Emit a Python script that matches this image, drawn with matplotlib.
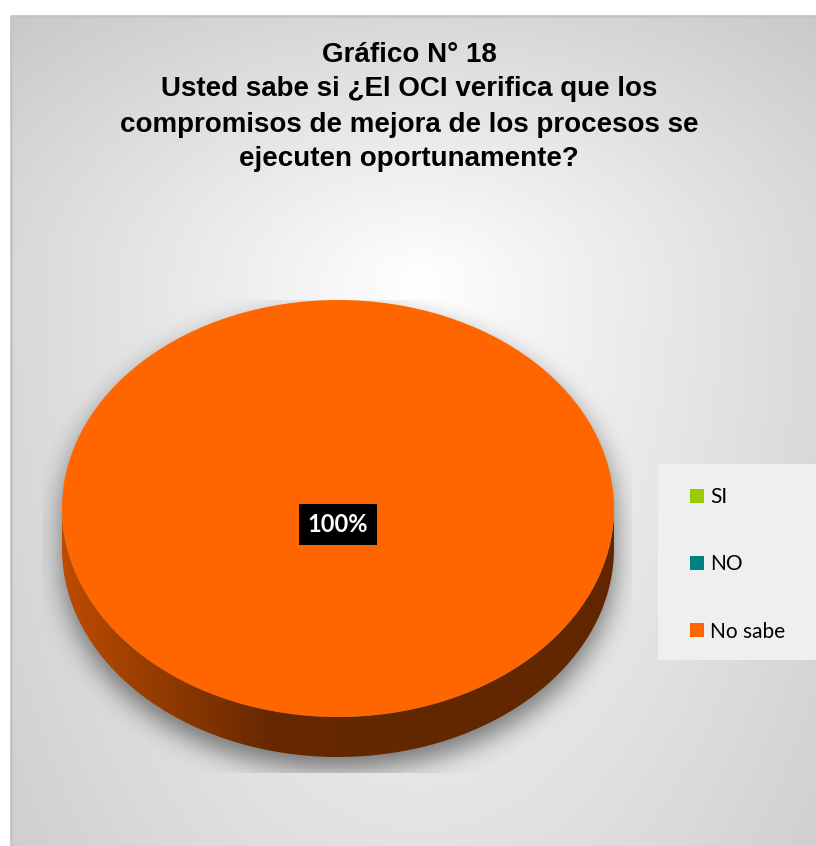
import numpy as np
import matplotlib
matplotlib.use("Agg")
import matplotlib.pyplot as plt
from matplotlib.patches import Patch, Rectangle, Polygon
from matplotlib.colors import to_rgb

# survey answers (percent of respondents)
categories = ["SI", "NO", "No sabe"]
values = [0, 0, 100]
colors = ["#99cc00", "#008080", "#ff6600"]

title = ("Gráfico N° 18\n"
         "Usted sabe si ¿El OCI verifica que los\n"
         "compromisos de mejora de los procesos se\n"
         "ejecuten oportunamente?")

W, H = 816, 846
fig = plt.figure(figsize=(W / 100, H / 100), dpi=100, facecolor="white")

# background layer in pixel coordinates
bg = fig.add_axes([0, 0, 1, 1])
bg.set_xlim(0, W)
bg.set_ylim(H, 0)
bg.axis("off")

x0, y0 = 11, 16
yy, xx = np.mgrid[y0:H, x0:W].astype(float)
cx_g, cy_g = 420, 280
dy = yy - cy_g
sy = np.where(dy < 0, 380.0, 1100.0)
r = np.sqrt(((xx - cx_g) / 600.0) ** 2 + (dy / sy) ** 2)
g = 1 - 0.22 * np.clip(r, 0, 1.15)
bg.imshow(np.dstack([g, g, g]), extent=(x0, W, H, y0), aspect="auto",
          interpolation="bilinear", zorder=0)
bg.plot([x0, x0, W], [H, y0, y0], color="#c4c4c4", lw=2, zorder=1)

# pie geometry in pixels: top face ellipse plus extruded side
pcx, pcy, rx, ry, depth = 338, 508.5, 276, 208.5, 40

# soft shadow under the pie
sx0, sx1, sy0, sy1 = 42, 632, 300, 773
py, px = np.mgrid[sy0:sy1, sx0:sx1].astype(float)
u = (px - pcx) / rx
half = ry * np.sqrt(np.clip(1 - u ** 2, 0, None))
mask = ((np.abs(u) <= 1) & (py >= pcy - half) & (py <= pcy + depth + half)).astype(float)
pad = 60
big = np.zeros((mask.shape[0] + 2 * pad, mask.shape[1] + 2 * pad))
big[pad:-pad, pad:-pad] = mask
k = np.arange(-40, 41)
kern = np.exp(-0.5 * (k / 13.0) ** 2)
kern /= kern.sum()
big = np.apply_along_axis(lambda v: np.convolve(v, kern, mode="same"), 0, big)
big = np.apply_along_axis(lambda v: np.convolve(v, kern, mode="same"), 1, big)
shift = 12
sh = big[pad - shift:pad - shift + mask.shape[0], pad:pad + mask.shape[1]]
rgba = np.zeros(sh.shape + (4,))
rgba[..., 3] = 0.5 * np.clip(sh, 0, 1)
bg.imshow(rgba, extent=(sx0, sx1, sy1, sy0), aspect="auto", zorder=2)

# pie axes: data units, radius 1, squashed into an ellipse
d = depth / ry
ax = fig.add_axes([(pcx - rx) / W, (H - (pcy + ry + depth)) / H,
                   2 * rx / W, (2 * ry + depth) / H])
wedges, _ = ax.pie(values, colors=colors, startangle=90, counterclock=False,
                   radius=1, wedgeprops=dict(linewidth=0))
for w in wedges:
    w.set_zorder(5)
ax.set_aspect("auto")
ax.axis("off")

# side walls of the front half, shaded left to right
total = float(sum(values))
for val, col, w in zip(values, colors, wedges):
    if val == 0:
        continue
    lo, hi = w.theta1 % 360, w.theta2 % 360
    if val / total >= 0.999:
        lo, hi = 180.0, 360.0
    else:
        if hi <= lo:
            hi += 360
        lo, hi = max(lo, 180.0), min(hi, 360.0)
    if hi <= lo:
        continue
    t = np.radians(np.linspace(lo, hi, 200))
    top = np.column_stack([np.cos(t), np.sin(t)])
    bot = np.column_stack([np.cos(t), np.sin(t) - d])[::-1]
    poly = Polygon(np.vstack([top, bot]), closed=True, fc="none", ec="none")
    ax.add_patch(poly)
    base = np.array(to_rgb(col))
    gx = np.linspace(-1, 1, 400)
    f = np.interp(gx, [-1, -0.25, 1], [0.74, 0.40, 0.38])
    img = np.clip(base[None, None, :] * f[None, :, None], 0, 1)
    img = np.repeat(img, 2, axis=0)
    im = ax.imshow(img, extent=(-1, 1, -1 - d, 0), aspect="auto", zorder=3,
                   interpolation="bilinear")
    im.set_clip_path(poly)
ax.set_xlim(-1, 1)
ax.set_ylim(-1 - d, 1)

# percentage label
for val, w in zip(values, wedges):
    if val == 0:
        continue
    frac = val / total
    if frac >= 0.999:
        lx, ly = 0.0, -0.075
    else:
        mid = np.radians((w.theta1 + w.theta2) / 2)
        lx, ly = 0.6 * np.cos(mid), 0.6 * np.sin(mid)
    ax.text(lx, ly, f"{frac * 100:.0f}%", ha="center", va="center",
            color="white", fontsize=17, fontweight="bold", family="Lato",
            zorder=8,
            bbox=dict(boxstyle="square,pad=0.38", fc="black", ec="none"))

# title
bg.text(409, 107, title, ha="center", va="center", fontsize=20,
        fontweight="bold", family=["Liberation Sans", "DejaVu Sans"],
        linespacing=1.45, color="black", zorder=4)

# legend panel
bg.add_patch(Rectangle((658, 464), W - 658, 196, fc="#efefef", ec="none", zorder=3))
handles = [Patch(facecolor=c, edgecolor="none") for c in colors]
bg.legend(handles, categories, loc="upper left",
          bbox_to_anchor=(690 / W, 1 - 487 / H), frameon=False,
          prop=dict(family="Lato", size=15), labelspacing=2.27,
          handlelength=0.67, handleheight=0.67, handletextpad=0.3,
          borderpad=0, borderaxespad=0)

fig.savefig("out.png", dpi=100, facecolor="white")
